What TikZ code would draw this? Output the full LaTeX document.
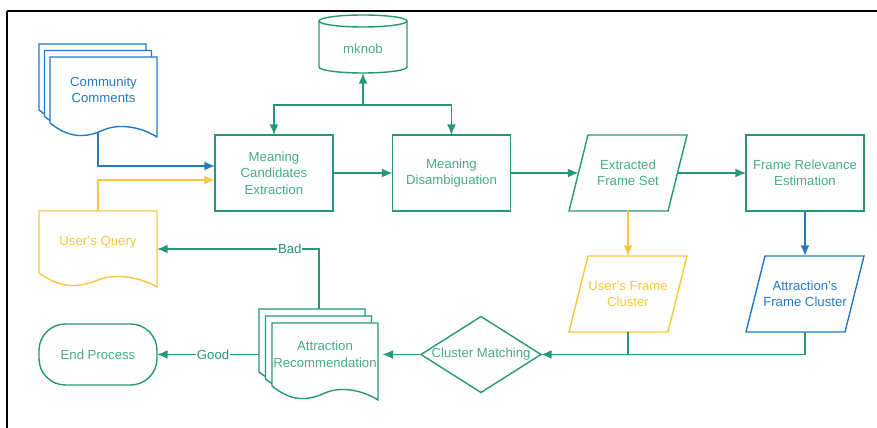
\documentclass[tikz,border=0pt]{standalone}
\usepackage{fontspec}
\setmainfont{Liberation Sans}
\usetikzlibrary{arrows.meta}

\definecolor{fgreen}{RGB}{38,152,122}
\definecolor{fgreentext}{RGB}{72,170,142}
\definecolor{fblue}{RGB}{38,122,196}
\definecolor{fyellow}{RGB}{252,198,62}

\newcommand{\docshape}[5]{%
\pgfmathsetmacro{\docw}{#3-#1}
\filldraw[#5, fill=white] (#1,#2) -- (#3,#2) -- (#3,#4+14)
 .. controls ({#3-0.15*\docw},#4+4) and ({#1+0.65*\docw},#4) .. ({#1+0.5*\docw},#4+7)
 .. controls ({#1+0.35*\docw},#4+14) and ({#1+0.2*\docw},#4+17) .. (#1,#4) -- cycle;}

\newcommand{\slantframe}[2]{%
\draw[#2] ([xshift=-0.19cm]#1.south west) -- ([xshift=-0.19cm]#1.south east)
 -- ([xshift=0.19cm]#1.north east) -- ([xshift=0.19cm]#1.north west) -- cycle;}

\begin{document}
\begin{tikzpicture}[x=0.02cm, y=-0.02cm, >={Latex[length=6pt, width=5pt]},
 every node/.style={font=\fontsize{7.5}{9.4}\selectfont, align=center, outer sep=0pt},
 box/.style={draw=fgreen, text=fgreentext, line width=0.8pt, minimum width=2.36cm, minimum height=1.52cm},
 slanted/.style={minimum width=1.98cm, minimum height=1.52cm},
 doctext/.style={minimum width=#1, minimum height=1.24cm},
 edgetext/.style={fill=white, text=fgreen, inner sep=0.5pt},
 flow/.style={->, line width=0.8pt, color=fgreen}]

\useasboundingbox (0,0) rectangle (877,428);
\draw[line width=1.1pt] (7,11) -- (877,11);
\draw[line width=0.6pt] (7,11) -- (7,428);

\docshape{39}{44}{146}{110}{fblue, line width=0.8pt}
\docshape{44.5}{50.5}{151.5}{116.5}{fblue, line width=0.8pt}
\docshape{50}{57}{157}{123}{fblue, line width=0.8pt}
\docshape{39}{211}{157}{273}{fyellow, line width=0.8pt}
\docshape{259}{309}{365}{372}{fgreen, line width=0.8pt}
\docshape{265.5}{316}{371.5}{379}{fgreen, line width=0.8pt}
\docshape{272}{323}{378}{386}{fgreen, line width=0.8pt}

\draw[fgreen, line width=0.8pt] (319,21) -- (319,67) arc[start angle=180, end angle=0, x radius=44, y radius=6] -- (407,21);
\draw[fgreen, line width=0.8pt] (363,21) ellipse[x radius=44, y radius=6];

\draw
(363,49) node[minimum width=1.76cm, minimum height=0.96cm, text=fgreentext](mk){mknob}
(103.5,90) node[doctext=2.14cm, minimum height=1.32cm, text=fblue](comm){Community\\Comments}
(274,173) node[box](mce){Meaning\\Candidates\\Extraction}
(451.5,173) node[box](md){Meaning\\Disambiguation}
(628,173) node[slanted, text=fgreentext](efs){Extracted\\Frame Set}
(805,173) node[box](fre){Frame Relevance\\Estimation}
(98,242) node[doctext=2.36cm, text=fyellow](uq){User's Query}
(628,294) node[slanted, text=fyellow](ufc){User's Frame\\Cluster}
(805,294) node[slanted, text=fblue](afc){Attraction's\\Frame Cluster}
(481,354.5) node[minimum width=2.4cm, minimum height=1.52cm, text=fgreentext](cm){Cluster Matching}
(325,354.5) node[doctext=2.12cm, minimum height=1.26cm, text=fgreentext](rec){Attraction\\Recommendation}
(98,354.5) node[draw=fgreen, line width=0.8pt, rounded corners=15pt, minimum width=2.36cm, minimum height=1.22cm, text=fgreentext](ep){End Process};

\slantframe{efs}{fgreen, line width=0.8pt}
\slantframe{ufc}{fyellow, line width=0.8pt}
\slantframe{afc}{fblue, line width=0.8pt}
\draw[fgreen, line width=0.8pt] (cm.north) -- (cm.east) -- (cm.south) -- (cm.west) -- cycle;

\coordinate (split) at (363,105);
\coordinate (commfoot) at (98,132);
\coordinate (recback) at (259,354.5);
\coordinate (rectop) at (319,309);

\draw[flow] (split) -- (mk.south);
\draw[flow] (split) -| (mce.north);
\draw[flow] (split) -| (md.north);
\draw[flow] (mce) -- (md);
\draw[flow] (md) -- (efs);
\draw[flow] (efs) -- (fre);
\draw[flow, color=fyellow] (efs) -- (ufc);
\draw[flow, color=fblue, line width=1.1pt] (fre) -- (afc);
\draw[flow, color=fblue] (commfoot) |- ([yshift=0.14cm]mce.west);
\draw[flow, color=fyellow] (uq.north) |- ([yshift=-0.14cm]mce.west);
\draw[flow] (afc.south) |- (cm.east);
\draw[fgreen, line width=0.8pt] (ufc.south) -- (ufc.south |- cm.east);
\draw[flow] (cm) -- (rec);
\draw[flow] (recback) -- node[edgetext, pos=0.45]{Good} (ep);
\draw[flow] (rectop) |- node[edgetext, pos=0.59]{Bad} ([yshift=-0.14cm]uq.east);

\end{tikzpicture}
\end{document}
